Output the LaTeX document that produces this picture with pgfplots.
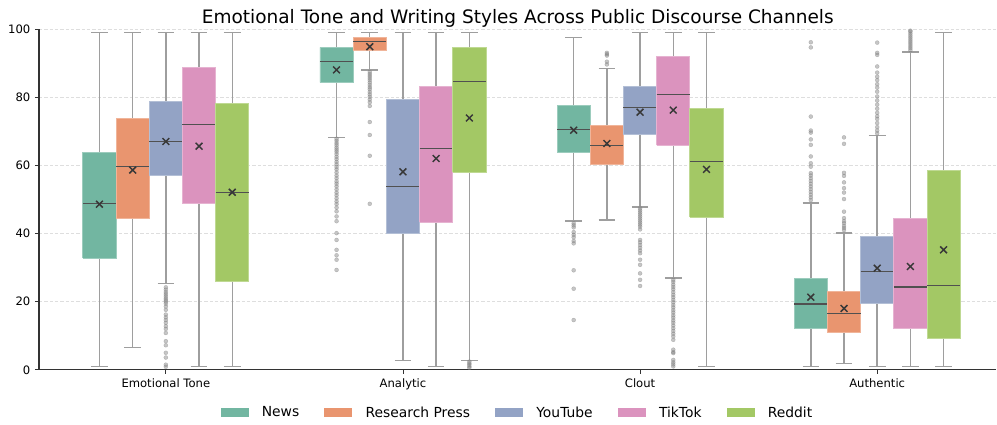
\documentclass[border=0pt]{standalone}
\usepackage{pgfplots}
\pgfplotsset{compat=1.18}
\usepackage{fontspec}
\setmainfont{DejaVu Sans}
\definecolor{cNews}{RGB}{114,182,161}
\definecolor{cRP}{RGB}{233,149,111}
\definecolor{cYT}{RGB}{147,163,197}
\definecolor{cTT}{RGB}{219,147,190}
\definecolor{cRed}{RGB}{163,200,101}
\definecolor{whisk}{RGB}{158,158,158}
\definecolor{medc}{RGB}{80,80,80}
% #1 colour, #2 position, #3 lower whisker, #4 Q1, #5 median, #6 Q3, #7 upper whisker
\newcommand{\bx}[7]{%
  \pgfmathsetmacro{\xa}{#2-0.07}\pgfmathsetmacro{\xb}{#2+0.07}%
  \pgfmathsetmacro{\ca}{#2-0.035}\pgfmathsetmacro{\cb}{#2+0.035}%
  \addplot[forget plot, draw=whisk, line width=1.1pt] coordinates {(#2,#3) (#2,#4)};
  \addplot[forget plot, draw=whisk, line width=1.1pt] coordinates {(#2,#6) (#2,#7)};
  \addplot[forget plot, draw=whisk, line width=1.1pt] coordinates {(\ca,#3) (\cb,#3)};
  \addplot[forget plot, draw=whisk, line width=1.1pt] coordinates {(\ca,#7) (\cb,#7)};
  \addplot[forget plot, fill=#1, draw=#1!70!white, line width=0.6pt] coordinates {(\xa,#4) (\xb,#4) (\xb,#6) (\xa,#6) (\xa,#4)};
  \addplot[forget plot, draw=medc, line width=0.8pt] coordinates {(\xa,#5) (\xb,#5)};
}
% outliers: #1 position, #2 table body
\newcommand{\ol}[2]{%
  \addplot[forget plot, only marks, mark=*, mark size=1.5pt, mark options={draw=gray, fill=gray, opacity=0.45, line width=0.3pt}] table[x expr=#1, y index=0, row sep=\\] {y\\ #2};
}
\begin{document}
\begin{tikzpicture}
\begin{axis}[
  name=ax,
  scale only axis,
  width=718.5pt, height=255.75pt,
  xmin=-0.535, xmax=3.503, ymin=0, ymax=100,
  axis lines*=left,
  axis line style={draw=black!80, line width=0.8pt},
  xtick={0,1,2,3},
  xticklabels={Emotional Tone, Analytic, Clout, Authentic},
  ytick={0,20,40,60,80,100},
  tick align=outside,
  major tick length=3pt,
  tick style={draw=black!80, line width=0.6pt},
  tick label style={font=\fontsize{8.7}{10}\selectfont},
  /pgf/number format/assume math mode=true,
  ymajorgrids,
  major grid style={dash pattern=on 2.5pt off 1.5pt, draw=black!13, line width=0.5pt},
  title={Emotional Tone and Writing Styles Across Public Discourse Channels},
  title style={font=\fontsize{13.9}{16}\selectfont, at={(0.5,1)}, anchor=base, inner sep=0pt, yshift=-1.7pt},
  legend image code/.code={\fill[#1] (0pt,-3.55pt) rectangle (21pt,3.55pt);},
  legend columns=5,
  legend style={at={(0.5,-0.126)}, anchor=center, draw=none, fill=none,
    font=\fontsize{10.4}{12}\selectfont,
    /tikz/every odd column/.append style={column sep=8pt},
    /tikz/every even column/.append style={column sep=16.75pt}},
]
\addlegendimage{fill=cNews, draw=none}\addlegendentry{News}
\addlegendimage{fill=cRP, draw=none}\addlegendentry{Research Press}
\addlegendimage{fill=cYT, draw=none}\addlegendentry{YouTube}
\addlegendimage{fill=cTT, draw=none}\addlegendentry{TikTok}
\addlegendimage{fill=cRed, draw=none}\addlegendentry{Reddit}

% Emotional Tone
\bx{cNews}{-0.28}{0.9}{32.8}{48.7}{63.9}{99.0}
\bx{cRP}{-0.14}{6.5}{44.3}{59.7}{73.8}{99.0}
\bx{cYT}{0}{25.3}{57.0}{67.1}{78.7}{99.0}
\ol{0}{24.2\\ 23.5\\ 22.8\\ 22.2\\ 21.6\\ 21.0\\ 20.5\\ 20.0\\ 19.4\\ 18.6\\ 17.6\\ 16.2\\ 15.4\\ 14.6\\ 13.8\\ 12.8\\ 12.0\\ 10.8\\ 8.4\\ 7.2\\ 5.0\\ 3.6\\ 1.5\\ 0.9\\}
\bx{cTT}{0.14}{0.9}{48.7}{72.0}{88.7}{99.0}
\bx{cRed}{0.28}{0.9}{25.8}{51.9}{78.1}{99.0}

% Analytic
\bx{cNews}{0.72}{68.2}{84.3}{90.5}{94.6}{99.0}
\ol{0.72}{67.8\\ 67.2\\ 66.5\\ 65.9\\ 65.2\\ 64.6\\ 64.0\\ 63.3\\ 62.5\\ 61.8\\ 61.0\\ 60.3\\ 59.5\\ 58.8\\ 57.9\\ 57.0\\ 56.2\\ 55.3\\ 54.6\\ 53.8\\ 52.9\\ 52.0\\ 51.2\\ 50.3\\ 49.4\\ 48.6\\ 47.6\\ 46.5\\ 45.0\\ 43.6\\ 40.1\\ 38.1\\ 35.2\\ 33.6\\ 32.3\\ 29.3\\}
\bx{cRP}{0.86}{87.9}{93.7}{96.4}{97.6}{99.0}
\ol{0.86}{87.4\\ 86.8\\ 86.2\\ 85.6\\ 85.0\\ 84.3\\ 83.6\\ 82.9\\ 82.3\\ 81.5\\ 80.8\\ 80.1\\ 79.3\\ 78.5\\ 77.4\\ 72.7\\ 68.9\\ 62.8\\ 48.7\\}
\bx{cYT}{1}{2.8}{40.1}{53.9}{79.3}{99.0}
\bx{cTT}{1.14}{0.9}{43.3}{64.9}{83.2}{99.0}
\bx{cRed}{1.28}{2.8}{57.9}{84.5}{94.5}{99.0}
\ol{1.28}{2.4\\ 1.9\\ 1.5\\ 1.0\\ 0.6\\}

% Clout
\bx{cNews}{1.72}{43.6}{63.9}{70.6}{77.5}{97.5}
\ol{1.72}{43.0\\ 42.4\\ 41.8\\ 40.4\\ 39.6\\ 38.9\\ 37.8\\ 37.1\\ 29.2\\ 23.8\\ 14.6\\}
\bx{cRP}{1.86}{43.9}{60.3}{65.9}{71.6}{88.4}
\ol{1.86}{93.0\\ 92.6\\ 92.2\\ 90.4\\ 89.6\\}
\bx{cYT}{2}{47.8}{69.1}{76.9}{83.2}{99.0}
\ol{2}{47.4\\ 46.8\\ 46.2\\ 45.6\\ 45.0\\ 44.4\\ 43.8\\ 43.2\\ 42.6\\ 42.0\\ 41.2\\ 38.1\\ 37.4\\ 36.6\\ 35.8\\ 35.0\\ 34.2\\ 32.3\\ 30.8\\ 28.3\\ 26.4\\ 24.6\\}
\bx{cTT}{2.14}{26.9}{65.9}{80.8}{91.9}{99.0}
\ol{2.14}{26.4\\ 25.8\\ 25.0\\ 24.3\\ 23.6\\ 22.8\\ 22.0\\ 21.3\\ 20.5\\ 19.8\\ 19.0\\ 18.3\\ 17.5\\ 16.8\\ 16.0\\ 15.3\\ 14.5\\ 13.8\\ 13.0\\ 12.2\\ 11.4\\ 10.6\\ 9.8\\ 8.8\\ 5.9\\ 5.2\\ 4.9\\ 2.9\\ 2.2\\ 1.6\\ 1.0\\}
\bx{cRed}{2.28}{0.9}{44.8}{61.2}{76.7}{99.0}

% Authentic
\bx{cNews}{2.72}{0.9}{12.1}{19.3}{26.9}{49.0}
\ol{2.72}{49.8\\ 50.6\\ 51.4\\ 52.2\\ 53.0\\ 53.8\\ 54.6\\ 55.4\\ 56.2\\ 57.0\\ 57.7\\ 59.6\\ 60.6\\ 62.6\\ 66.0\\ 67.6\\ 69.6\\ 70.2\\ 74.3\\ 94.6\\ 96.1\\}
\bx{cRP}{2.86}{1.8}{11.1}{16.4}{22.9}{40.2}
\ol{2.86}{41.0\\ 41.6\\ 42.2\\ 43.0\\ 43.6\\ 44.5\\ 46.4\\ 50.1\\ 52.0\\ 53.3\\ 55.0\\ 56.9\\ 57.8\\ 66.3\\ 68.2\\}
\bx{cYT}{3}{0.9}{19.4}{28.8}{39.0}{68.8}
\ol{3}{69.4\\ 70.2\\ 71.2\\ 72.4\\ 73.6\\ 74.4\\ 75.4\\ 76.6\\ 77.8\\ 79.0\\ 80.2\\ 81.6\\ 82.8\\ 83.8\\ 85.0\\ 86.0\\ 87.2\\ 89.0\\ 92.4\\ 93.0\\ 96.0\\}
\bx{cTT}{3.14}{0.9}{12.1}{24.3}{44.4}{93.3}
\ol{3.14}{93.8\\ 94.4\\ 95.0\\ 95.6\\ 96.2\\ 96.8\\ 97.4\\ 98.0\\ 98.6\\ 99.2\\ 99.5\\}
\bx{cRed}{3.28}{0.9}{9.2}{24.8}{58.6}{99.0}

% means
\addplot[forget plot, only marks, mark=x, mark size=3.6pt, mark options={draw=black!78, line width=1.1pt}] coordinates {
(-0.28,48.6) (-0.14,58.6) (0,67.0) (0.14,65.6) (0.28,52.1)
(0.72,88.0) (0.86,94.8) (1,58.1) (1.14,62.0) (1.28,73.9)
(1.72,70.3) (1.86,66.4) (2,75.6) (2.14,76.2) (2.28,58.8)
(2.72,21.3) (2.86,18.0) (3,29.8) (3.14,30.3) (3.28,35.2)};
\end{axis}
\path ([xshift=-29.25pt,yshift=-39.75pt]ax.south west) rectangle ([yshift=21.75pt]ax.north east);
\end{tikzpicture}
\end{document}
